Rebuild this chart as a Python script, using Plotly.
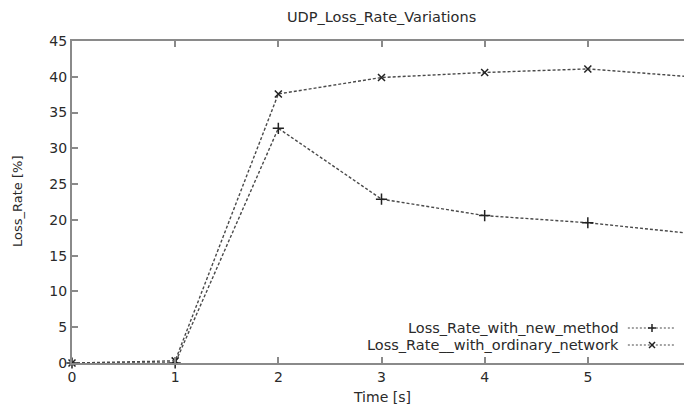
import plotly.graph_objects as go

time_s = [0, 1, 2, 3, 4, 5, 6]
loss_new_method = [0, 0, 32.8, 22.9, 20.6, 19.6, 18.1]
loss_ordinary = [0, 0.3, 37.6, 39.9, 40.6, 41.1, 40.0]
x_ticks = [0, 1, 2, 3, 4, 5, 6]
y_ticks = [0, 5, 10, 15, 20, 25, 30, 35, 40, 45]
legend_names = ["Loss_Rate_with_new_method", "Loss_Rate__with_ordinary_network"]

FONT = "DejaVu Sans"
TXT = "#2a2a2a"
LINE = "#4a4a4a"
AX = "#8a8a8a"

fig = go.Figure()
fig.add_trace(go.Scatter(
    x=time_s, y=loss_new_method, mode="lines+markers", name=legend_names[0],
    line=dict(color=LINE, width=1.4, dash="3px,2px"),
    marker=dict(symbol="cross-thin", size=8, line=dict(color="#222", width=1.5)),
    cliponaxis=False,
))
fig.add_trace(go.Scatter(
    x=time_s, y=loss_ordinary, mode="lines+markers", name=legend_names[1],
    line=dict(color=LINE, width=1.4, dash="3px,2px"),
    marker=dict(symbol="x-thin", size=7, line=dict(color="#222", width=1.5)),
    cliponaxis=False,
))

# legend drawn gnuplot-style (text then sample)
leg_rows = [0.1087, 0.0559]
for i, (name, yp) in enumerate(zip(legend_names, leg_rows)):
    fig.add_annotation(x=0.887, y=yp, xref="paper", yref="paper", text=name,
                       showarrow=False, xanchor="right", yanchor="middle",
                       font=dict(family=FONT, size=14.5, color=TXT))
    fig.add_shape(type="line", xref="paper", yref="paper", x0=0.898, x1=0.974,
                  y0=yp, y1=yp, line=dict(color=LINE, width=1.2, dash="2px,2px"))
    if i == 0:
        segs = [(-4, 0, 4, 0), (0, -4, 0, 4)]
    else:
        segs = [(-3, -3, 3, 3), (-3, 3, 3, -3)]
    for (a, b, c, d) in segs:
        fig.add_shape(type="line", xref="paper", yref="paper",
                      xsizemode="pixel", ysizemode="pixel",
                      xanchor=0.937, yanchor=yp, x0=a, y0=b, x1=c, y1=d,
                      line=dict(color="#222", width=1.5))

# axis titles and chart title as annotations (fixed positions)
fig.add_annotation(x=0.5, y=0, xref="paper", yref="paper", yshift=-34,
                   text="Time [s]", showarrow=False, xanchor="center", yanchor="middle",
                   font=dict(family=FONT, size=14, color=TXT))
fig.add_annotation(x=0, y=0.5, xref="paper", yref="paper", xshift=-55,
                   text="Loss_Rate [%]", textangle=-90, showarrow=False,
                   xanchor="center", yanchor="middle",
                   font=dict(family=FONT, size=13, color=TXT))
fig.add_annotation(x=0.5, y=1, xref="paper", yref="paper", yshift=24,
                   text="UDP_Loss_Rate_Variations", showarrow=False,
                   xanchor="center", yanchor="middle",
                   font=dict(family=FONT, size=14.5, color=TXT))

axis_common = dict(
    showgrid=False, zeroline=False, showline=True, linecolor=AX, linewidth=2,
    mirror="ticks", ticks="inside", ticklen=6, tickcolor=AX, tickwidth=1.5,
    tickfont=dict(family=FONT, size=14, color=TXT), automargin=False,
    ticklabeloverflow="allow",
)
fig.update_xaxes(range=[0, 6], tickvals=x_ticks, **axis_common)
fig.update_yaxes(range=[0, 45], tickvals=y_ticks, **axis_common)

# page body has an 8px default margin; figure is offset to compensate
fig.update_layout(
    width=684, height=399,
    margin=dict(l=64, r=1, t=33, b=44, autoexpand=False),
    paper_bgcolor="white", plot_bgcolor="white",
    showlegend=False,
)
fig.write_html("out.html")
